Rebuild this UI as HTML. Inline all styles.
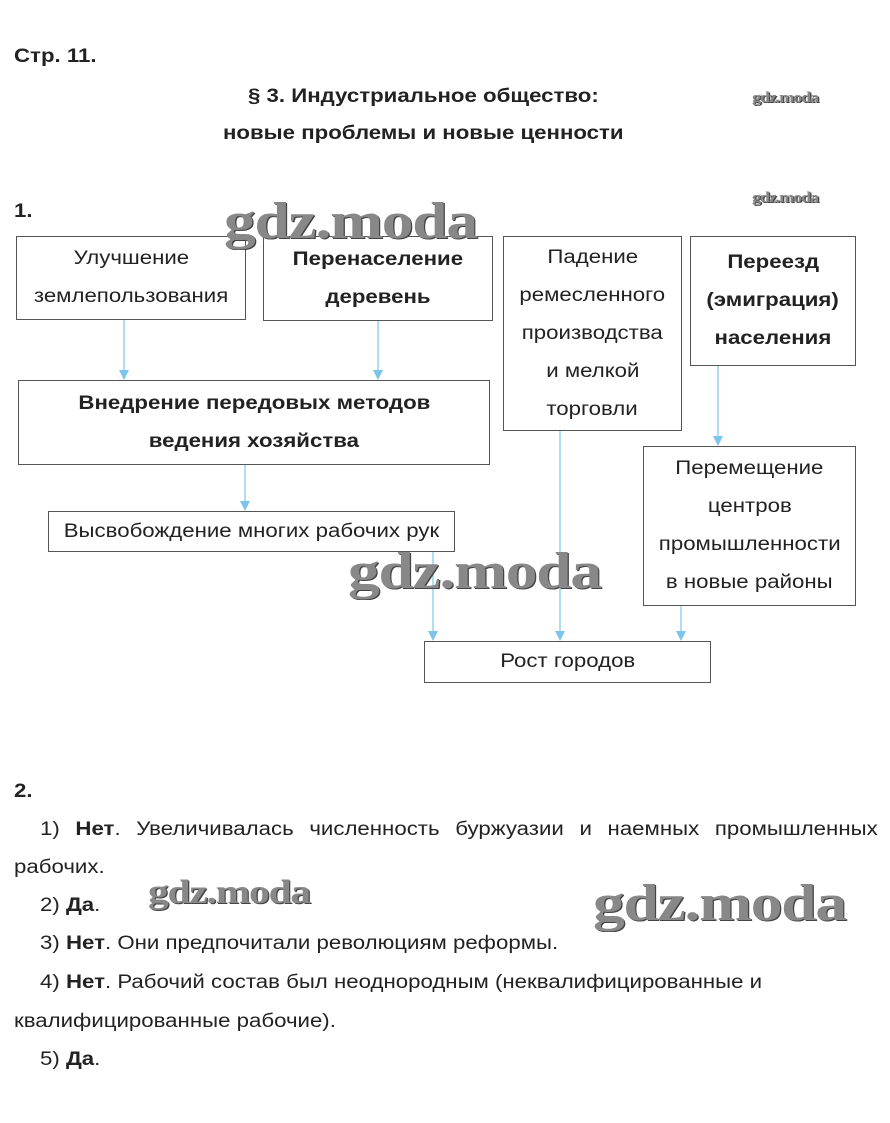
<!DOCTYPE html>
<html><head><meta charset="utf-8"><style>
body{margin:0;width:890px;height:1123px;background:#fff;position:relative;font-family:"Liberation Sans",sans-serif;color:#222;overflow:hidden}
.a{position:absolute}
.b{position:absolute;border:1px solid #555;box-sizing:border-box;text-align:center;font-size:19px;line-height:38px;display:flex;flex-direction:column;justify-content:center;align-items:center}
.b span{display:inline-block;transform:scaleX(1.17);white-space:nowrap}
.bd{font-weight:bold}
.t{position:absolute;font-size:19px;white-space:nowrap;transform:scaleX(1.17);transform-origin:0 0}
.w{position:absolute;font-family:"Liberation Serif",serif;font-weight:bold;color:#888;white-space:nowrap;text-shadow:1px 1px 0 #444;letter-spacing:-1px;transform:scaleX(1.22);transform-origin:0 0}
</style></head><body>
<div class="t" style="left:14px;top:46px;font-weight:bold">Стр. 11.</div>
<div class="t" style="left:248px;top:86px;font-weight:bold">§ 3. Индустриальное общество:</div>
<div class="t" style="left:223px;top:123px;font-weight:bold">новые проблемы и новые ценности</div>
<div class="t" style="left:14px;top:201px;font-weight:bold">1.</div>

<div class="b" style="left:16px;top:236px;width:230px;height:84px"><span>Улучшение</span><span>землепользования</span></div>
<div class="b bd" style="left:263px;top:236px;width:230px;height:85px"><span>Перенаселение</span><span>деревень</span></div>
<div class="b" style="left:503px;top:236px;width:179px;height:195px"><span>Падение</span><span>ремесленного</span><span>производства</span><span>и мелкой</span><span>торговли</span></div>
<div class="b bd" style="left:690px;top:236px;width:166px;height:130px"><span>Переезд</span><span>(эмиграция)</span><span>населения</span></div>
<div class="b bd" style="left:18px;top:380px;width:472px;height:85px"><span>Внедрение передовых методов</span><span>ведения хозяйства</span></div>
<div class="b" style="left:48px;top:511px;width:407px;height:41px"><span>Высвобождение многих рабочих рук</span></div>
<div class="b" style="left:643px;top:446px;width:213px;height:160px"><span>Перемещение</span><span>центров</span><span>промышленности</span><span>в новые районы</span></div>
<div class="b" style="left:424px;top:641px;width:287px;height:42px"><span>Рост городов</span></div>

<svg class="a" style="left:0;top:0" width="890" height="1123">
<g stroke="#7cc4ec" stroke-width="1.2" fill="none">
<line x1="124" y1="320" x2="124" y2="372"/><line x1="378" y1="321" x2="378" y2="372"/>
<line x1="245" y1="465" x2="245" y2="503"/><line x1="718" y1="366" x2="718" y2="438"/>
<line x1="433" y1="552" x2="433" y2="633"/><line x1="560" y1="431" x2="560" y2="633"/>
<line x1="681" y1="606" x2="681" y2="633"/></g>
<g fill="#7cc4ec">
<polygon points="119,370 129,370 124,380"/><polygon points="373,370 383,370 378,380"/>
<polygon points="240,501 250,501 245,511"/><polygon points="713,436 723,436 718,446"/>
<polygon points="428,631 438,631 433,641"/><polygon points="555,631 565,631 560,641"/>
<polygon points="676,631 686,631 681,641"/></g>
</svg>

<div class="w" style="left:752px;top:90px;font-size:15px">gdz.moda</div>
<div class="w" style="left:752px;top:190px;font-size:15px">gdz.moda</div>
<div class="w" style="left:224px;top:192px;font-size:52px">gdz.moda</div>
<div class="w" style="left:348px;top:542px;font-size:52px">gdz.moda</div>
<div class="w" style="left:148px;top:874px;font-size:34px">gdz.moda</div>
<div class="w" style="left:593px;top:874px;font-size:52px">gdz.moda</div>

<div class="t" style="left:14px;top:781px;font-weight:bold">2.</div>
<div class="t" style="left:40px;top:819px;width:716px;text-align:justify;text-align-last:justify">1) <b>Нет</b>. Увеличивалась численность буржуазии и наемных промышленных</div>
<div class="t" style="left:14px;top:857px">рабочих.</div>
<div class="t" style="left:40px;top:895px">2) <b>Да</b>.</div>
<div class="t" style="left:40px;top:933px">3) <b>Нет</b>. Они предпочитали революциям реформы.</div>
<div class="t" style="left:40px;top:972px">4) <b>Нет</b>. Рабочий состав был неоднородным (неквалифицированные и</div>
<div class="t" style="left:14px;top:1011px">квалифицированные рабочие).</div>
<div class="t" style="left:40px;top:1049px">5) <b>Да</b>.</div>
</body></html>
